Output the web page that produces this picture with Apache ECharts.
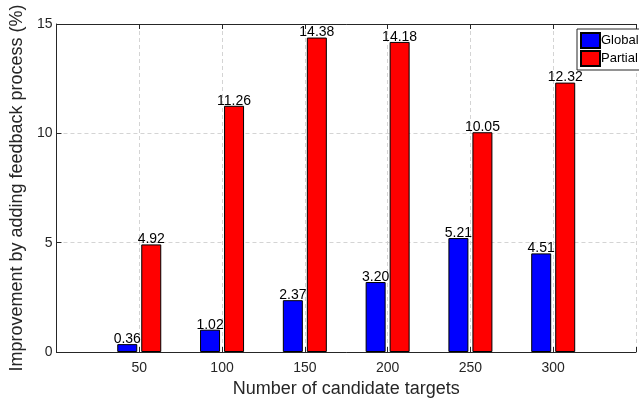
<!DOCTYPE html>
<html>
<head>
<meta charset="utf-8">
<script src="https://cdn.jsdelivr.net/npm/echarts@6/dist/echarts.min.js"></script>
<style>html,body{margin:0;padding:0;background:#fff}#c{width:639px;height:405px}</style>
</head>
<body>
<div id="c"></div>
<script>
var categories = [50, 100, 150, 200, 250, 300];
var globalValues = [0.36, 1.02, 2.37, 3.20, 5.21, 4.51];
var partialValues = [4.92, 11.26, 14.38, 14.18, 10.05, 12.32];
var seriesNames = ['Global', 'Partial'];
var xTitle = 'Number of candidate targets';
var yTitle = 'Improvement by adding feedback process (%)';

function pairs(vals) { return categories.map(function (c, i) { return [c, vals[i]]; }); }

var FONT = 'Liberation Sans, Arial, Helvetica, sans-serif';
var AX = '#262626';
var chart = echarts.init(document.getElementById('c'), null, { renderer: 'canvas' });

var labelCfg = {
  show: true, position: 'top', distance: -2, color: '#000', fontSize: 14, fontFamily: FONT,
  formatter: function (p) { return p.value[1].toFixed(2); }
};

chart.setOption({
  animation: false,
  backgroundColor: '#fff',
  grid: { left: 53, top: 24, width: 595, height: 328, containLabel: false },
  legend: {
    data: seriesNames, orient: 'vertical', left: 577, top: 29,
    itemWidth: 19, itemHeight: 15, itemGap: 1,
    padding: [3, 40, 3, 3],
    borderColor: '#262626', borderWidth: 1, backgroundColor: '#fff',
    textStyle: { fontSize: 13, fontFamily: FONT, color: '#000', padding: [0, 0, 0, -4] },
    icon: 'rect'
  },
  xAxis: [{
    type: 'value', min: 0, max: 350, interval: 50, position: 'bottom',
    name: xTitle, nameLocation: 'middle', nameGap: 28,
    nameTextStyle: { fontSize: 18, fontFamily: FONT, color: AX },
    axisLine: { lineStyle: { color: AX, width: 1 } },
    axisTick: { inside: true, length: 5, lineStyle: { color: AX } },
    axisLabel: { fontSize: 14, fontFamily: FONT, color: AX, margin: 9,
      formatter: function (v) { return (v === 0 || v === 350) ? '' : String(v); } },
    splitLine: { show: true, lineStyle: { color: '#d4d4d4', type: [4, 3], width: 1 } }
  }, {
    type: 'value', min: 0, max: 350, interval: 50, position: 'top',
    axisLine: { show: true, onZero: false, lineStyle: { color: AX, width: 1 } },
    axisTick: { show: true, inside: true, length: 5, lineStyle: { color: AX } },
    axisLabel: { show: false }, splitLine: { show: false }
  }],
  yAxis: {
    type: 'value', min: 0, max: 15, interval: 5,
    name: yTitle, nameLocation: 'middle', nameGap: 24,
    nameTextStyle: { fontSize: 18, fontFamily: FONT, color: AX },
    axisLine: { show: true, lineStyle: { color: AX, width: 1 } },
    axisTick: { show: true, inside: true, length: 5, lineStyle: { color: AX } },
    axisLabel: { fontSize: 14, fontFamily: FONT, color: AX, margin: 4 },
    splitLine: { show: true, lineStyle: { color: '#d4d4d4', type: [4, 3], width: 1 } }
  },
  series: [{
    name: seriesNames[0], type: 'bar', xAxisIndex: 0, data: pairs(globalValues),
    barWidth: 20, barGap: '20%',
    itemStyle: { color: '#0000ff', borderColor: '#000', borderWidth: 1 },
    label: labelCfg, z: 3
  }, {
    name: seriesNames[1], type: 'bar', xAxisIndex: 0, data: pairs(partialValues),
    barWidth: 20, barGap: '20%',
    itemStyle: { color: '#ff0000', borderColor: '#000', borderWidth: 1 },
    label: labelCfg, z: 3
  }]
});
</script>
</body>
</html>
